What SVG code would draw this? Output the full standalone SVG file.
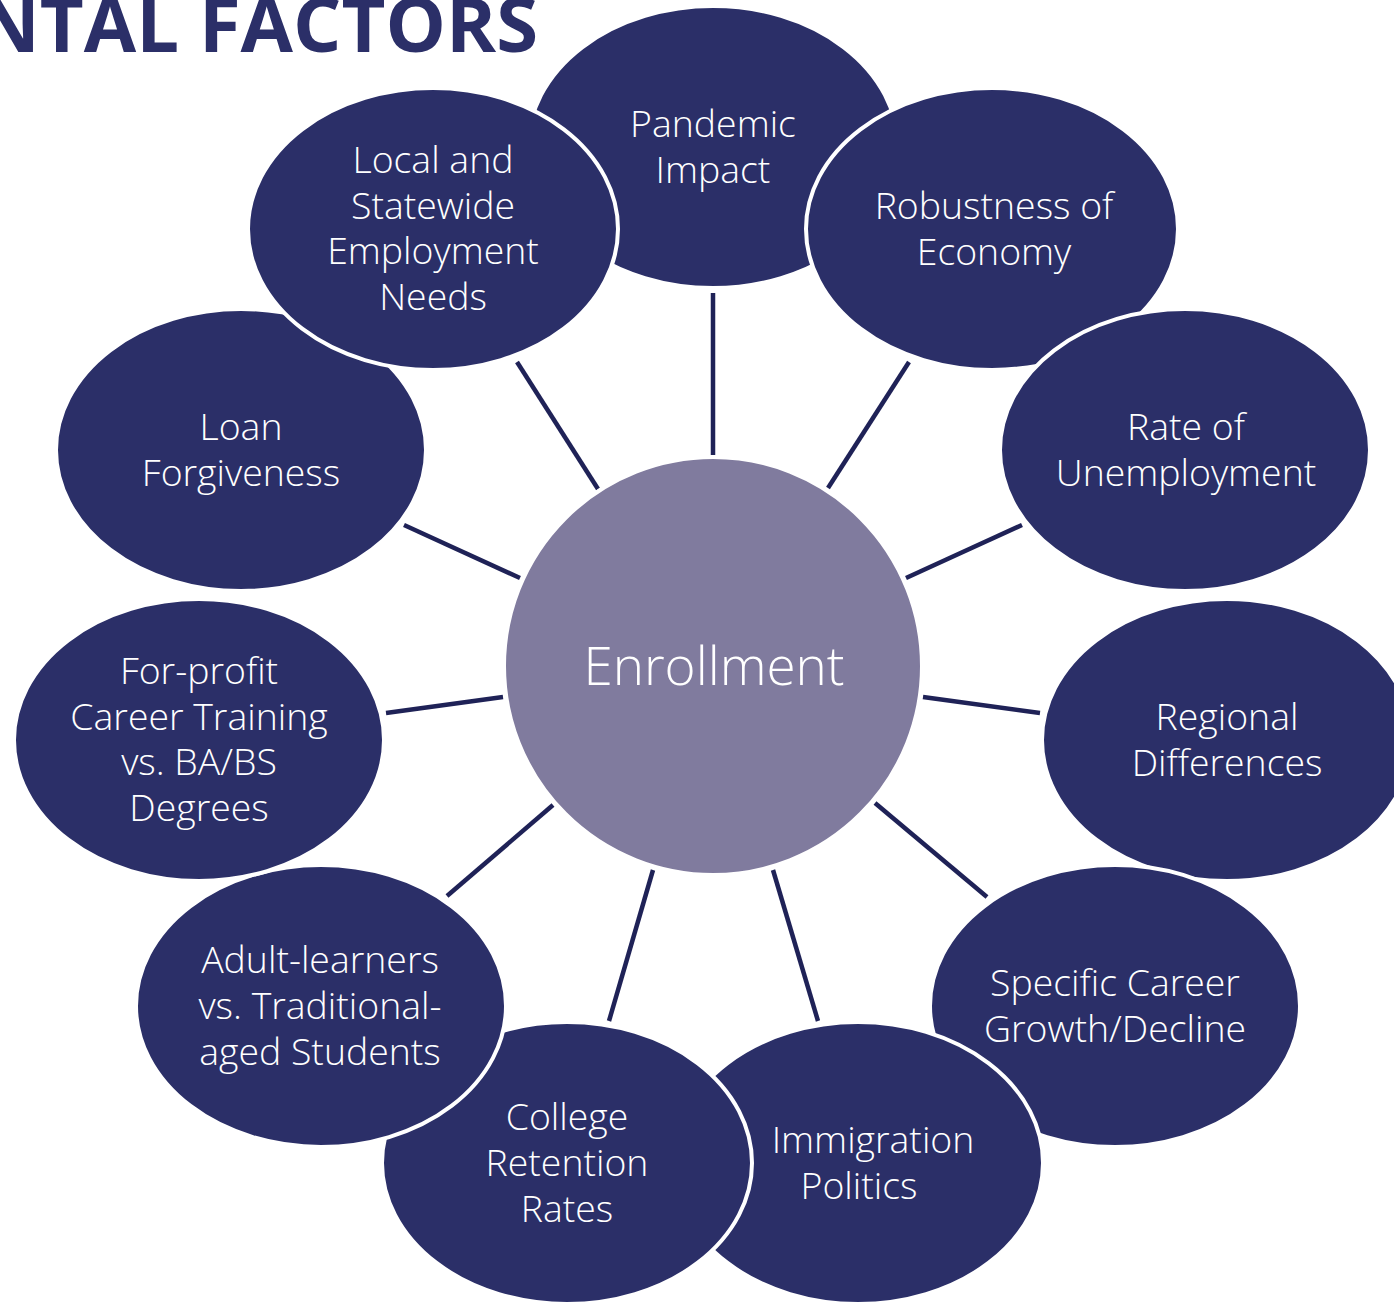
<svg xmlns="http://www.w3.org/2000/svg" width="1394" height="1303" viewBox="0 0 1394 1303">
<style>
.n{fill:#2B2F68;stroke:#FFFFFF;stroke-width:4}
.c{fill:#807B9E;stroke:#FFFFFF;stroke-width:4}
.t{fill:#FFFFFF;font-family:"Open Sans","Liberation Sans",sans-serif;font-weight:300;font-size:37.4px;text-anchor:middle}
.ct{fill:#FFFFFF;font-family:"Open Sans","Liberation Sans",sans-serif;font-weight:300;font-size:53px;text-anchor:middle}
.e line{stroke:#1F2257;stroke-width:4.5;stroke-linecap:butt}
.title{fill:#2B2F68;font-family:"Open Sans","Liberation Sans",sans-serif;font-weight:700;font-size:76px;text-anchor:end}
</style>
<rect width="1394" height="1303" fill="#FFFFFF"/>
<text class="title" x="538" y="52">NTAL FACTORS</text>
<g id="connectors" class="e">
<line x1="713" y1="455" x2="713" y2="293"/>
<line x1="828" y1="488" x2="909" y2="362"/>
<line x1="906" y1="578" x2="1022" y2="525"/>
<line x1="923" y1="697" x2="1040" y2="713"/>
<line x1="875" y1="803" x2="987" y2="897"/>
<line x1="773" y1="870" x2="818" y2="1021"/>
<line x1="653" y1="870" x2="609" y2="1021"/>
<line x1="553" y1="805" x2="447" y2="896"/>
<line x1="503" y1="697" x2="386" y2="713"/>
<line x1="520" y1="578" x2="404" y2="525"/>
<line x1="598" y1="489" x2="517" y2="362"/>
</g>
<g id="enrollment">
<circle class="c" cx="713" cy="666" r="209"/>
<text class="ct" x="714" y="685">Enrollment</text>
</g>
<g id="pandemic">
<ellipse class="n" cx="713" cy="147" rx="185" ry="141"/>
<text class="t" x="713" y="137">Pandemic</text>
<text class="t" x="713" y="183">Impact</text>
</g>
<g id="robustness">
<ellipse class="n" cx="992" cy="229" rx="186" ry="141"/>
<text class="t" x="994" y="219">Robustness of</text>
<text class="t" x="994" y="265">Economy</text>
</g>
<g id="unemployment">
<ellipse class="n" cx="1185" cy="450" rx="185" ry="141"/>
<text class="t" x="1186" y="440">Rate of</text>
<text class="t" x="1186" y="486">Unemployment</text>
</g>
<g id="regional">
<ellipse class="n" cx="1227" cy="740" rx="185" ry="141"/>
<text class="t" x="1227" y="730">Regional</text>
<text class="t" x="1227" y="776">Differences</text>
</g>
<g id="career">
<ellipse class="n" cx="1115" cy="1006" rx="185" ry="141"/>
<text class="t" x="1115" y="996">Specific Career</text>
<text class="t" x="1115" y="1042">Growth/Decline</text>
</g>
<g id="immigration">
<ellipse class="n" cx="858" cy="1163" rx="185" ry="141"/>
<text class="t" x="873" y="1153">Immigration</text>
<text class="t" x="859" y="1199">Politics</text>
</g>
<g id="retention">
<ellipse class="n" cx="567" cy="1163" rx="185" ry="141"/>
<text class="t" x="567" y="1130">College</text>
<text class="t" x="567" y="1176">Retention</text>
<text class="t" x="567" y="1222">Rates</text>
</g>
<g id="adult">
<ellipse class="n" cx="321" cy="1006" rx="185" ry="141"/>
<text class="t" x="320" y="973">Adult-learners</text>
<text class="t" x="320" y="1019">vs. Traditional-</text>
<text class="t" x="320" y="1065">aged Students</text>
</g>
<g id="forprofit">
<ellipse class="n" cx="199" cy="740" rx="185" ry="141"/>
<text class="t" x="199" y="684">For-profit</text>
<text class="t" x="199" y="730">Career Training</text>
<text class="t" x="199" y="775">vs. BA/BS</text>
<text class="t" x="199" y="821">Degrees</text>
</g>
<g id="loan">
<ellipse class="n" cx="241" cy="450" rx="185" ry="141"/>
<text class="t" x="241" y="440">Loan</text>
<text class="t" x="241" y="486">Forgiveness</text>
</g>
<g id="local">
<ellipse class="n" cx="433" cy="229" rx="185" ry="141"/>
<text class="t" x="433" y="173">Local and</text>
<text class="t" x="433" y="219">Statewide</text>
<text class="t" x="433" y="264">Employment</text>
<text class="t" x="433" y="310">Needs</text>
</g>
</svg>
